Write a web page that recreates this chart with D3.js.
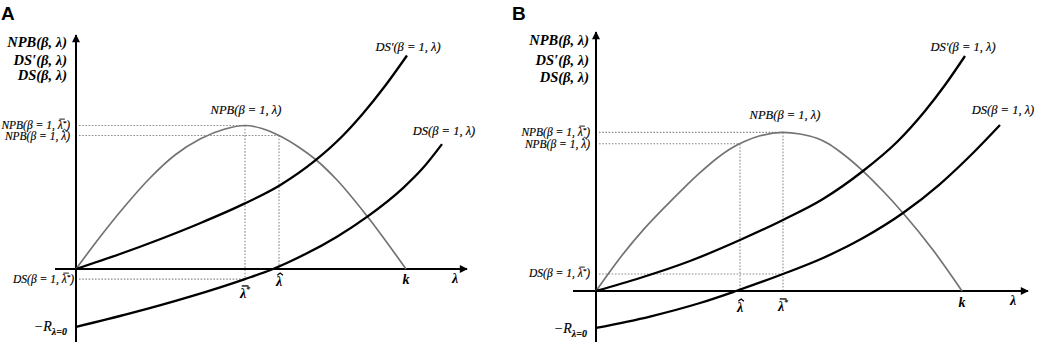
<!DOCTYPE html>
<html><head><meta charset="utf-8">
<script src="https://cdn.jsdelivr.net/npm/d3@7"></script>
<style>html,body{margin:0;padding:0;background:#fff;}svg{display:block;}</style>
</head><body>
<script>
// ---------- DATA (λ in units where k = 10; values in arbitrary money units) ----------
const K = 10;
// Panel A
const npbA     = [[0,0],[0.727,0.970],[1.485,1.909],[2.242,2.758],[3.0,3.455],[3.758,3.939],[4.515,4.242],[5.121,4.348],[5.636,4.258],[6.152,4.045],[6.788,3.667],[7.242,3.333],[7.909,2.697],[8.818,1.606],[10,0]];
const dsPrimeA = [[0,0],[1.333,0.455],[2.545,0.903],[3.758,1.388],[5.121,1.988],[6.182,2.539],[7.242,3.282],[8.091,4.045],[8.697,4.712],[9.364,5.545],[10.030,6.470]];
const dsA      = [[0,-1.758],[1.636,-1.348],[3.455,-0.839],[5.121,-0.306],[5.970,0],[6.939,0.445],[7.909,0.979],[8.818,1.579],[9.909,2.452],[10.485,3.027],[11.091,3.785]];
const markA    = {lamStar:5.121, lamHat:6.152, npbStar:4.348, npbHat:4.045, dsStar:-0.306, negR:-1.758};
// Panel B
const npbB     = [[0,0],[0.656,1.003],[1.339,1.912],[1.940,2.612],[2.377,3.097],[2.842,3.585],[3.306,4.024],[3.743,4.355],[4.071,4.536],[4.481,4.703],[5.109,4.806],[5.574,4.758],[6.038,4.627],[6.339,4.470],[6.667,4.221],[7.295,3.636],[7.842,3.030],[8.388,2.364],[9.208,1.242],[10,0]];
const dsPrimeB = [[0,0],[1.202,0.394],[2.568,0.909],[3.934,1.545],[5.109,2.152],[6.202,2.788],[7.295,3.636],[8.224,4.515],[8.989,5.455],[9.536,6.242],[10.082,7.121]];
const dsB      = [[0,-1.121],[1.475,-0.773],[2.842,-0.364],[3.825,0],[5.109,0.515],[6.202,1.0],[7.295,1.606],[8.388,2.364],[9.399,3.242],[10.301,4.182],[11.038,5.030]];
const markB    = {lamStar:5.109, lamHat:3.934, npbStar:4.806, npbHat:4.461, dsStar:0.515, negR:-1.121};
// Texts
const yTitles = ["NPB(\u03B2, \u03BB)", "DS\u2032(\u03B2, \u03BB)", "DS(\u03B2, \u03BB)"];
const panelLetters = ["A","B"];
</script>
<script>
const W = 1040, H = 342;
const svg = d3.select("body").append("svg").attr("width", W).attr("height", H);
const SERIF = "'Liberation Serif','DejaVu Serif',serif";
const LAM = "\u03BB";

const defs = svg.append("defs");
defs.append("marker").attr("id","arr").attr("viewBox","0 0 10 10").attr("refX",9).attr("refY",5)
  .attr("markerWidth",9).attr("markerHeight",8).attr("markerUnits","userSpaceOnUse").attr("orient","auto")
  .append("path").attr("d","M0,0 L10,5 L0,10 Z").attr("fill","#000");

const layouts = [
  { letterX:1, ox:76, oy:269, kx:406, unit:33, xStart:55, xEnd:467, yTop:35, yBottom:342,
    titleRight:67, titleY:[47,65,80], leftLabelRight:70, npbStarY:129, npbHatY:140, dsStarLabRight:74, dsStarLabY:283,
    negRRight:67, negRY:331, hatLabY:286, starLabY:298, kLabY:284, lamLabX:455, lamLabY:283,
    npbLab:[246,114], dspLab:[408,51], dsLab:[444,135], data:[npbA,dsPrimeA,dsA], m:markA },
  { letterX:512, ox:596, oy:291, kx:962, unit:33, xStart:573, xEnd:1028, yTop:32, yBottom:342,
    titleRight:589, titleY:[45,65,82], leftLabelRight:590, npbStarY:136, npbHatY:148, dsStarLabRight:590, dsStarLabY:277,
    negRRight:587, negRY:333, hatLabY:312, starLabY:311, kLabY:307, lamLabX:1013, lamLabY:305,
    npbLab:[785,119], dspLab:[963,51], dsLab:[1003,114], data:[npbB,dsPrimeB,dsB], m:markB }
];

// draw an accent (hat or bar) above the character at index idx of a text element
function accent(g, textSel, idx, type, size) {
  const node = textSel.node();
  const s = node.getStartPositionOfChar(idx), e = node.getEndPositionOfChar(idx);
  const cx = (s.x + e.x) / 2 + size * 0.08, yb = s.y;
  const sw = size > 13 ? 1.3 : 0.9;
  if (type === "hat") {
    const w = size * 0.2;
    g.append("path").attr("d", `M${cx - w},${yb - size * 0.76} L${cx},${yb - size * 0.93} L${cx + w},${yb - size * 0.76}`)
      .attr("fill","none").attr("stroke","#000").attr("stroke-width", sw);
  } else {
    const w = size * 0.24;
    g.append("line").attr("x1", cx - w + 1).attr("x2", cx + w + 1).attr("y1", yb - size * 0.86).attr("y2", yb - size * 0.86)
      .attr("stroke","#000").attr("stroke-width", sw);
  }
}

layouts.forEach((L, i) => {
  const g = svg.append("g");
  const x = d3.scaleLinear().domain([0, K]).range([L.ox, L.kx]);
  const y = d3.scaleLinear().domain([0, 1]).range([L.oy, L.oy - L.unit]);
  const line = d3.line().x(d => x(d[0])).y(d => y(d[1])).curve(d3.curveMonotoneX);
  const m = L.m;

  // panel letter
  g.append("text").attr("x", L.letterX).attr("y", 20).text(panelLetters[i])
    .attr("font-family","'Liberation Sans',Arial,sans-serif").attr("font-weight","bold").attr("font-size",19);

  // dotted guide lines
  const dot = (x1,y1,x2,y2) => g.append("line").attr("x1",x1).attr("y1",y1).attr("x2",x2).attr("y2",y2)
    .attr("stroke","#8c8c8c").attr("stroke-width",1.1).attr("stroke-dasharray","1.6,1.6");
  dot(L.ox+3, y(m.npbStar), x(m.lamStar), y(m.npbStar));
  dot(L.ox+3, y(m.npbHat), x(m.lamHat), y(m.npbHat));
  dot(x(m.lamStar), y(m.npbStar), x(m.lamStar), y(Math.min(0, m.dsStar)));
  dot(x(m.lamHat), y(m.npbHat), x(m.lamHat), y(0));
  dot(L.ox+3, y(m.dsStar), x(m.lamStar), y(m.dsStar));

  // axes
  g.append("line").attr("x1",L.xStart).attr("y1",L.oy).attr("x2",L.xEnd).attr("y2",L.oy)
    .attr("stroke","#000").attr("stroke-width",2).attr("marker-end","url(#arr)");
  g.append("line").attr("x1",L.ox).attr("y1",L.yBottom).attr("x2",L.ox).attr("y2",L.yTop)
    .attr("stroke","#000").attr("stroke-width",2).attr("marker-end","url(#arr)");

  // curves
  g.append("path").attr("d", line(L.data[0])).attr("fill","none").attr("stroke","#737373").attr("stroke-width",1.7);
  g.append("path").attr("d", line(L.data[1])).attr("fill","none").attr("stroke","#000").attr("stroke-width",2.3);
  g.append("path").attr("d", line(L.data[2])).attr("fill","none").attr("stroke","#000").attr("stroke-width",2.3);

  // y-axis titles
  yTitles.forEach((t, j) => {
    g.append("text").attr("x", L.titleRight).attr("y", L.titleY[j]).attr("text-anchor","end")
      .attr("font-family",SERIF).attr("font-style","italic").attr("font-weight","bold").attr("font-size",14.5).text(t);
  });

  const txt = (xx, yy, anchor, size, bold) => g.append("text").attr("x",xx).attr("y",yy).attr("text-anchor",anchor)
    .attr("font-family",SERIF).attr("font-style","italic").attr("font-size",size).attr("font-weight", bold ? "bold" : "normal")
    .attr("stroke", bold ? "none" : "#000").attr("stroke-width", bold ? 0 : 0.15);

  // left labels
  let t = txt(L.leftLabelRight, L.npbStarY, "end", 11.5);
  t.append("tspan").text("NPB(\u03B2 = 1, " + LAM);
  t.append("tspan").attr("font-size",7).attr("dy",-4).text("*");
  t.append("tspan").attr("dy",4).text(")");
  accent(g, t, t.text().indexOf(LAM), "bar", 11.5);
  t = txt(L.leftLabelRight, L.npbHatY, "end", 11.5).text("NPB(\u03B2 = 1, " + LAM + ")");
  accent(g, t, t.text().indexOf(LAM), "hat", 11.5);
  t = txt(L.dsStarLabRight, L.dsStarLabY, "end", 11.5);
  t.append("tspan").text("DS(\u03B2 = 1, " + LAM);
  t.append("tspan").attr("font-size",7).attr("dy",-4).text("*");
  t.append("tspan").attr("dy",4).text(")");
  accent(g, t, t.text().indexOf(LAM), "bar", 11.5);
  t = txt(L.negRRight, L.negRY, "end", 14);
  t.append("tspan").text("\u2212R");
  t.append("tspan").attr("font-size",10).attr("font-weight","bold").attr("dy",4).text("\u03BB=0");

  // x-axis labels
  t = txt(x(m.lamHat), L.hatLabY, "middle", 14, true).text(LAM);
  accent(g, t, 0, "hat", 14);
  t = txt(x(m.lamStar), L.starLabY, "middle", 14, true);
  t.append("tspan").text(LAM);
  t.append("tspan").attr("font-size",8).attr("dy",-6).text("*");
  accent(g, t, 0, "bar", 14);
  txt(L.kx, L.kLabY, "middle", 14, true).text("k");
  txt(L.lamLabX, L.lamLabY, "middle", 14, true).text(LAM);

  // curve labels
  txt(L.npbLab[0], L.npbLab[1], "middle", 12.5).text("NPB(\u03B2 = 1, \u03BB)");
  txt(L.dspLab[0], L.dspLab[1], "middle", 12.5).text("DS\u2032(\u03B2 = 1, \u03BB)");
  txt(L.dsLab[0], L.dsLab[1], "middle", 12.5).text("DS(\u03B2 = 1, \u03BB)");
});
</script>
</body></html>
